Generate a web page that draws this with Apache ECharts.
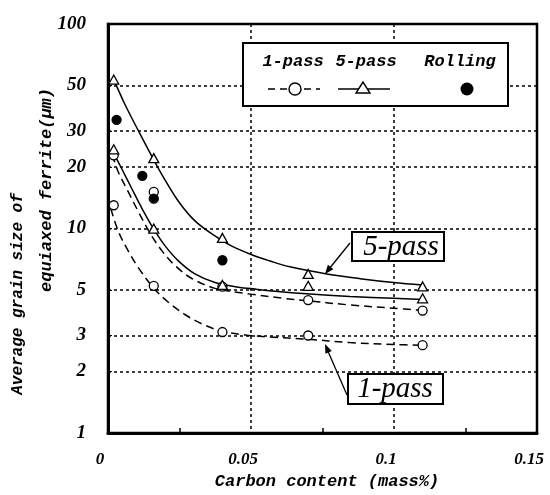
<!DOCTYPE html>
<html><head><meta charset="utf-8">
<script src="https://cdn.jsdelivr.net/npm/echarts@6/dist/echarts.min.js"></script>
<style>html,body{margin:0;padding:0;background:#fff}#c{width:550px;height:495px}</style>
</head><body><div id="c"></div>
<script>
// ---- data ----
const xTickValues = [0, 0.05, 0.1, 0.15];
const xTickLabels = ['0', '0.05', '0.1', '0.15'];
const yTickValues = [1, 2, 3, 5, 10, 20, 30, 50, 100];
const xAxisTitle = 'Carbon content (mass%)';
const yAxisTitle1 = 'Average grain size of';
const yAxisTitle2 = 'equiaxed ferrite(\u03bcm)';

// measured points
const pass1Points = [[0.002,22.8],[0.002,13.0],[0.016,15.1],[0.016,5.25],[0.040,5.2],[0.040,3.12],[0.070,4.47],[0.070,3.0],[0.110,3.97],[0.110,2.69]];
const pass5Points = [[0.002,53.5],[0.002,24.4],[0.016,22.1],[0.016,10.0],[0.040,9.0],[0.040,5.3],[0.070,6.0],[0.070,5.25],[0.110,5.21],[0.110,4.56]];
const rollingPoints = [[0.003,34],[0.012,18.1],[0.016,14.0],[0.040,7.0]];

// fitted curves
const pass5UpperCurve = [[0.002,53.6],[0.0059,40.5],[0.0106,30.1],[0.0153,22.6],[0.0193,17.9],[0.0246,13.6],[0.0304,10.9],[0.0374,9.2],[0.0433,8.2],[0.0514,7.34],[0.0566,6.94],[0.0636,6.5],[0.0765,6.0],[0.0881,5.69],[0.0998,5.45],[0.110,5.3]];
const pass5LowerCurve = [[0.0015,24.1],[0.0048,19.6],[0.0083,15.7],[0.0118,12.6],[0.0158,10.05],[0.0199,8.25],[0.0246,6.95],[0.0304,6.0],[0.0374,5.45],[0.0456,5.17],[0.0514,5.06],[0.0613,4.9],[0.0695,4.8],[0.0846,4.66],[0.0998,4.56],[0.110,4.5]];
const pass1UpperCurve = [[0.0015,23.0],[0.0036,18.9],[0.0071,15.1],[0.0106,12.1],[0.0147,9.5],[0.0188,7.8],[0.0234,6.6],[0.0293,5.7],[0.0374,5.1],[0.0456,4.87],[0.0497,4.78],[0.0613,4.56],[0.0695,4.44],[0.0846,4.23],[0.0998,4.08],[0.110,3.97]];
const pass1LowerCurve = [[0.001,12.5],[0.0036,9.69],[0.0071,7.76],[0.0106,6.44],[0.0158,5.15],[0.0211,4.36],[0.0269,3.8],[0.0328,3.42],[0.0398,3.15],[0.0479,3.02],[0.0566,2.95],[0.0695,2.88],[0.0846,2.77],[0.0998,2.71],[0.110,2.69]];

const legendNames = ['1-pass', '5-pass', 'Rolling'];
const calloutTexts = ['5-pass', '1-pass'];

// ---- chart ----
const chart = echarts.init(document.getElementById('c'), null, {renderer: 'canvas'});
const monoBI = {fontFamily: 'Liberation Mono', fontWeight: 'bold', fontStyle: 'italic', color: '#000'};
const serifBI = {fontFamily: 'Liberation Serif', fontWeight: 'bold', fontStyle: 'italic', color: '#000'};
const grid = {left: 108, right: 13, top: 24, bottom: 58};

function curve(data, dashed) {
  return {type: 'line', data: data, showSymbol: false, symbol: 'none', smooth: 0.35, silent: true, z: 3,
    lineStyle: {color: '#000', width: 1.5, type: dashed ? [8, 5] : 'solid'}};
}
function pts(data, symbol, size, fill) {
  return {type: 'scatter', data: data, symbol: symbol, symbolSize: size, z: 5, silent: true,
    itemStyle: {color: fill, borderColor: '#000', borderWidth: 1.3, opacity: 1}};
}

const option = {
  animation: false,
  backgroundColor: '#fff',
  grid: Object.assign({show: true, borderColor: '#000', borderWidth: 2.5, backgroundColor: 'transparent'}, grid),
  xAxis: {
    type: 'value', min: 0, max: 0.15, interval: 0.05,
    axisLine: {show: true, onZero: false, lineStyle: {color: '#000', width: 3}},
    axisTick: {show: false, inside: true},
    minorTick: {show: true, splitNumber: 2, length: 5, lineStyle: {color: '#000', width: 1.5}},
    splitLine: {show: true, lineStyle: {color: '#000', width: 1.5, type: [3, 3]}},
    axisLabel: Object.assign({fontSize: 17, margin: 18, padding: [0, 16, 0, 0],
      formatter: v => { const i = xTickValues.findIndex(t => Math.abs(t - v) < 1e-9); return i >= 0 ? xTickLabels[i] : ''; }}, serifBI),
    name: xAxisTitle, nameLocation: 'middle', nameGap: 38,
    nameTextStyle: Object.assign({fontSize: 17, padding: [0, 0, 0, 9]}, monoBI)
  },
  yAxis: {
    type: 'log', logBase: 10, min: 1, max: 100,
    axisLine: {show: true, onZero: false, lineStyle: {color: '#000', width: 3}},
    axisTick: {show: true, inside: true, length: 4, customValues: yTickValues, lineStyle: {color: '#000', width: 1}},
    splitLine: {show: true, lineStyle: {color: '#000', width: 1.5, type: [3, 3]}},
    axisLabel: Object.assign({fontSize: 19, margin: 22, padding: [0, 0, 15, 0], customValues: yTickValues,
      formatter: v => String(Math.round(v))}, serifBI)
  },
  series: [
    curve(pass5UpperCurve, false),
    curve(pass5LowerCurve, false),
    curve(pass1UpperCurve, true),
    curve(pass1LowerCurve, true),
    pts(pass1Points, 'circle', 9, '#fff'),
    pts(pass5Points, 'triangle', [10, 9], '#fff'),
    pts(rollingPoints, 'circle', 9, '#000')
  ],
  graphic: [
    // y-axis title (two lines)
    {type: 'text', x: 18, y: 294, rotation: Math.PI / 2, z: 100,
      style: Object.assign({text: yAxisTitle1, fontSize: 16, align: 'center', verticalAlign: 'middle', fill: '#000'}, monoBI)},
    {type: 'text', x: 47, y: 190, rotation: Math.PI / 2, z: 100,
      style: Object.assign({text: yAxisTitle2, fontSize: 17, align: 'center', verticalAlign: 'middle', fill: '#000'}, monoBI)},
    // legend box
    {type: 'rect', z: 100, shape: {x: 243, y: 43, width: 265, height: 63},
      style: {fill: '#fff', stroke: '#000', lineWidth: 2}},
    {type: 'text', z: 101, x: 293, y: 62, style: Object.assign({text: legendNames[0], fontSize: 17, align: 'center', verticalAlign: 'middle', fill: '#000'}, monoBI)},
    {type: 'text', z: 101, x: 366, y: 62, style: Object.assign({text: legendNames[1], fontSize: 17, align: 'center', verticalAlign: 'middle', fill: '#000'}, monoBI)},
    {type: 'text', z: 101, x: 460, y: 62, style: Object.assign({text: legendNames[2], fontSize: 17, align: 'center', verticalAlign: 'middle', fill: '#000'}, monoBI)},
    {type: 'line', z: 101, shape: {x1: 268, y1: 89, x2: 320, y2: 89}, style: {stroke: '#000', lineWidth: 1.5, lineDash: [7, 5]}},
    {type: 'circle', z: 102, shape: {cx: 295, cy: 89, r: 6}, style: {fill: '#fff', stroke: '#000', lineWidth: 1.4}},
    {type: 'line', z: 101, shape: {x1: 338, y1: 89, x2: 390, y2: 89}, style: {stroke: '#000', lineWidth: 1.5}},
    {type: 'polygon', z: 102, shape: {points: [[363, 82], [356, 93], [370, 93]]}, style: {fill: '#fff', stroke: '#000', lineWidth: 1.4}},
    {type: 'circle', z: 102, shape: {cx: 467, cy: 89, r: 6.5}, style: {fill: '#000'}},
    // 5-pass callout
    {type: 'rect', z: 100, shape: {x: 352, y: 232, width: 92, height: 29}, style: {fill: '#fff', stroke: '#000', lineWidth: 2}},
    {type: 'text', z: 101, x: 401, y: 247, style: {text: calloutTexts[0], fontFamily: 'Liberation Serif', fontStyle: 'italic', fontSize: 29, align: 'center', verticalAlign: 'middle', fill: '#000'}},
    {type: 'line', z: 100, shape: {x1: 350, y1: 243, x2: 329, y2: 269}, style: {stroke: '#000', lineWidth: 1.3}},
    {type: 'polygon', z: 100, shape: {points: [[325, 274], [333.4, 269.2], [327.9, 264.8]]}, style: {fill: '#000'}},
    // 1-pass callout
    {type: 'rect', z: 100, shape: {x: 348, y: 374, width: 95, height: 30}, style: {fill: '#fff', stroke: '#000', lineWidth: 2}},
    {type: 'text', z: 101, x: 395, y: 389, style: {text: calloutTexts[1], fontFamily: 'Liberation Serif', fontStyle: 'italic', fontSize: 29, align: 'center', verticalAlign: 'middle', fill: '#000'}},
    {type: 'line', z: 100, shape: {x1: 347, y1: 395, x2: 327, y2: 349}, style: {stroke: '#000', lineWidth: 1.3}},
    {type: 'polygon', z: 100, shape: {points: [[325, 344], [331.8, 350.9], [325.4, 353.7]]}, style: {fill: '#000'}}
  ]
};
chart.setOption(option);
</script>
</body></html>
